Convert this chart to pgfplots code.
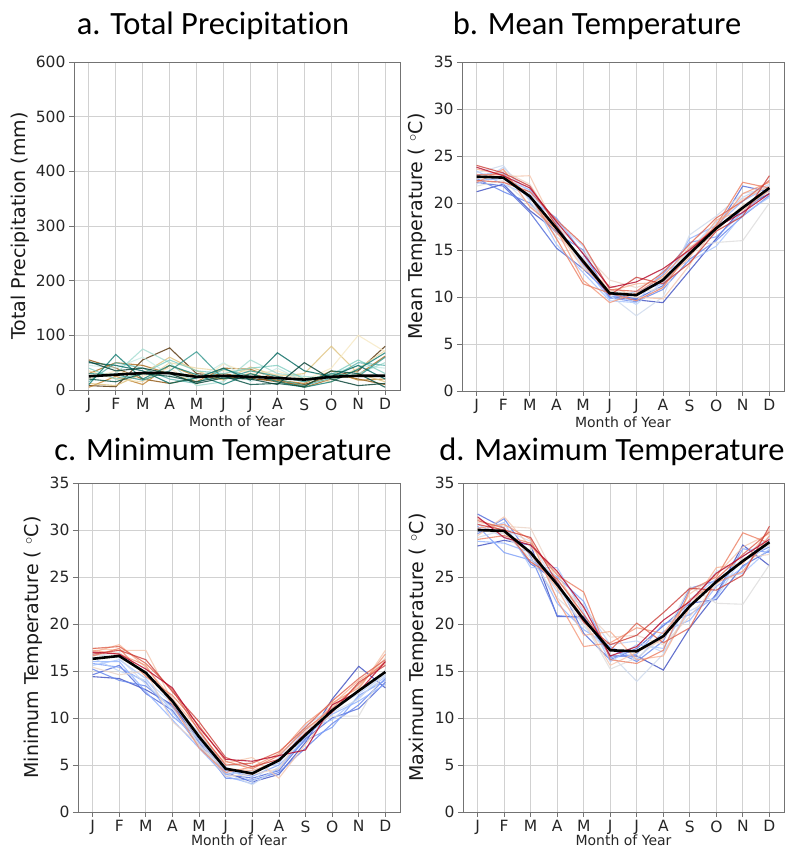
\documentclass[border=0pt]{standalone}
\usepackage{fontspec}
\setmainfont{DejaVu Sans}
\newfontfamily\titlefont[Ligatures=NoCommon]{Carlito}
\usepackage{pgfplots}
\usepackage{pgfplotstable}
\pgfplotsset{compat=1.18}

% coolwarm, blue (early) to red (late)
\definecolor{t1}{HTML}{3B4CC0}
\definecolor{t2}{HTML}{4F69D9}
\definecolor{t3}{HTML}{6485EC}
\definecolor{t4}{HTML}{7A9DF8}
\definecolor{t5}{HTML}{8FB1FE}
\definecolor{t6}{HTML}{A5C3FE}
\definecolor{t7}{HTML}{BBD1F8}
\definecolor{t8}{HTML}{CDD9EC}
\definecolor{t9}{HTML}{DDDCDC}
\definecolor{t10}{HTML}{EBD3C6}
\definecolor{t11}{HTML}{F4C5AD}
\definecolor{t12}{HTML}{F7B194}
\definecolor{t13}{HTML}{F4987A}
\definecolor{t14}{HTML}{EC7F63}
\definecolor{t15}{HTML}{DE614D}
\definecolor{t16}{HTML}{CC403A}
\definecolor{t17}{HTML}{B40426}
% BrBG for precipitation
\definecolor{p1}{HTML}{543005}
\definecolor{p2}{HTML}{8C510A}
\definecolor{p3}{HTML}{A8691C}
\definecolor{p4}{HTML}{BF812D}
\definecolor{p5}{HTML}{DFC27D}
\definecolor{p6}{HTML}{ECD9A6}
\definecolor{p7}{HTML}{F6E8C3}
\definecolor{p8}{HTML}{C7EAE5}
\definecolor{p9}{HTML}{A2DBD0}
\definecolor{p10}{HTML}{80CDC1}
\definecolor{p11}{HTML}{5AB4AC}
\definecolor{p12}{HTML}{35978F}
\definecolor{p13}{HTML}{0F7A70}
\definecolor{p14}{HTML}{01665E}
\definecolor{p15}{HTML}{004D40}
\definecolor{p16}{HTML}{003C30}

% one row per year, months as columns
\pgfplotstableread{
id 1 2 3 4 5 6 7 8 9 10 11 12
c1 8 6 55 77 30 25 20 18 10 25 35 80
c2 55 40 20 12 22 30 22 15 8 30 20 10
c3 30 50 45 30 15 40 38 20 5 20 28 62
c4 5 25 10 45 25 20 30 18 12 35 18 20
c5 12 8 30 60 35 18 42 25 30 80 30 15
c6 35 20 15 50 40 35 35 28 22 15 40 72
c7 20 35 25 40 10 48 30 35 18 40 100 70
c8 45 40 60 28 20 50 15 40 15 30 45 40
c9 25 30 75 50 8 15 55 30 25 20 30 50
c10 40 20 30 55 35 30 40 45 20 28 55 30
c11 15 50 40 20 12 38 25 20 8 22 50 45
c12 30 28 18 35 70 20 35 25 15 30 25 60
c13 10 65 20 45 28 10 30 15 5 15 38 68
c14 50 45 35 12 22 40 18 68 35 25 45 20
c15 20 15 30 25 15 25 10 12 6 35 30 5
c16 52 35 40 30 12 22 20 10 50 20 8 12
mean 25 28 31 31 24 26 24 22 19 24 26 26
}\rawa

\pgfplotstableread{
id 1 2 3 4 5 6 7 8 9 10 11 12
c1 21.2 22.0 19.2 17.0 14.0 10.0 9.7 9.4 12.8 16.2 19.5 21.0
c2 22.2 21.8 19.0 15.2 13.0 10.3 9.8 11.2 14.8 17.2 21.8 21.2
c3 22.6 21.2 20.0 16.8 15.0 9.9 9.5 10.8 14.0 16.0 18.6 20.8
c4 23.0 23.2 20.4 18.4 14.6 10.0 10.2 12.4 15.8 16.4 19.0 21.4
c5 22.4 22.6 21.4 17.8 13.4 9.8 10.6 11.4 16.2 17.6 20.2 21.8
c6 23.4 22.0 20.8 15.6 12.6 9.6 9.4 12.8 13.8 15.4 18.8 20.6
c7 22.0 23.8 21.0 18.0 15.4 10.8 9.2 11.6 15.0 18.0 20.6 22.0
c8 23.2 24.0 20.2 16.4 14.2 10.2 8.0 10.0 16.6 18.6 21.0 21.6
c9 21.8 22.4 19.8 17.4 13.2 10.6 10.4 11.0 15.4 15.8 16.0 20.0
c10 22.6 23.4 22.0 17.6 14.8 11.8 11.0 12.0 14.4 17.0 19.8 21.2
c11 22.8 22.8 22.9 17.2 13.0 11.2 10.0 9.8 13.4 17.8 20.4 21.8
c12 23.6 23.0 20.6 16.8 14.0 10.6 11.4 11.6 14.2 18.2 19.2 21.4
c13 22.2 23.6 19.6 17.2 11.8 9.4 10.4 12.2 15.2 17.4 21.0 22.2
c14 23.0 23.0 20.8 16.2 11.4 10.4 9.6 11.0 14.8 17.6 22.2 21.6
c15 22.4 22.2 21.2 18.2 15.6 10.8 10.6 12.6 15.6 18.4 20.2 22.4
c16 24.0 23.2 21.8 17.6 13.6 10.2 12.1 11.4 13.6 17.0 18.6 22.9
c17 23.8 22.9 21.6 18.0 14.6 11.0 11.6 13.0 15.0 17.4 19.0 21.0
mean 22.8 22.7 20.7 17.3 13.8 10.4 10.2 11.8 14.6 17.3 19.5 21.6
}\rawb

\pgfplotstableread{
id 1 2 3 4 5 6 7 8 9 10 11 12
c1 14.4 14.2 13.0 11.4 7.6 4.2 3.2 4.0 7.4 12.0 15.5 13.2
c2 14.6 15.6 12.6 10.8 7.0 4.0 3.6 4.4 7.8 10.0 11.0 13.8
c3 15.2 14.0 13.4 11.2 7.4 3.6 3.4 4.2 6.8 9.4 11.4 14.2
c4 15.8 15.4 13.8 10.2 7.8 4.4 3.8 5.0 7.6 9.0 12.4 14.0
c5 16.0 16.0 12.8 9.8 6.8 3.8 3.0 4.6 8.0 10.4 11.8 13.6
c6 15.6 16.2 14.2 10.6 7.2 4.0 4.4 5.2 8.8 9.8 12.2 14.4
c7 16.4 15.0 14.0 11.6 8.4 4.8 3.2 5.8 9.2 11.0 12.6 14.6
c8 16.8 16.4 13.6 11.0 7.6 4.2 2.9 4.8 8.4 10.6 12.0 15.0
c9 16.6 17.0 14.6 12.2 7.0 4.6 4.2 5.6 9.0 10.2 10.2 15.2
c10 15.4 14.6 15.0 9.6 7.2 3.8 4.0 4.6 8.6 11.2 13.4 16.4
c11 17.4 17.2 17.2 11.8 8.2 5.2 5.8 3.6 7.2 10.8 13.0 17.2
c12 17.0 17.8 15.4 12.0 8.8 4.6 4.4 5.4 8.2 11.4 14.0 15.8
c13 17.2 16.8 15.6 11.4 6.8 4.2 4.8 6.2 9.4 11.6 13.2 16.8
c14 16.6 17.4 14.4 12.4 9.2 5.4 4.6 6.0 8.8 11.0 13.6 16.0
c15 17.4 17.6 15.8 13.0 8.6 5.0 5.2 6.4 9.0 11.8 14.2 16.2
c16 16.8 17.2 16.2 12.8 9.6 5.8 4.8 5.6 8.4 10.6 13.8 15.6
c17 17.0 16.8 15.2 13.2 9.0 5.6 5.4 6.0 6.6 11.4 12.8 16.0
mean 16.3 16.6 14.8 11.8 8.0 4.6 4.1 5.5 8.2 10.8 12.9 14.9
}\rawc

\pgfplotstableread{
id 1 2 3 4 5 6 7 8 9 10 11 12
c1 28.3 28.9 28.4 20.8 20.8 16.6 16.6 15.1 19.6 23.2 28.4 26.2
c2 31.7 30.2 26.4 24.6 19.0 16.2 17.4 19.8 22.2 22.6 26.2 27.8
c3 29.6 31.2 27.2 20.9 20.6 17.4 16.0 18.2 23.8 24.6 26.8 28.2
c4 30.4 27.6 26.8 25.0 22.4 16.4 16.8 20.0 21.0 23.0 28.0 27.6
c5 28.8 28.6 27.6 22.2 19.4 17.6 16.2 19.2 20.4 24.0 26.0 28.8
c6 29.8 30.8 26.0 26.0 21.2 16.0 17.8 17.4 22.6 24.8 25.4 28.0
c7 30.6 29.2 27.8 23.4 22.0 17.8 18.2 17.0 21.4 22.8 27.2 29.2
c8 29.2 30.0 28.8 24.0 19.8 16.8 13.9 16.8 22.0 25.6 26.6 28.4
c9 30.0 29.6 27.0 22.8 20.2 15.2 16.4 18.6 24.0 22.2 22.1 26.3
c10 30.8 30.4 30.2 24.6 21.6 18.6 18.8 17.8 20.8 24.2 27.0 27.4
c11 29.4 31.4 28.2 25.4 20.4 15.6 17.0 18.4 23.2 25.2 28.2 29.6
c12 31.2 29.8 27.4 23.8 18.8 19.2 16.2 16.6 21.8 26.0 26.4 30.0
c13 30.2 30.6 29.0 22.6 17.6 18.0 19.6 19.0 22.6 24.4 25.6 29.4
c14 29.0 29.4 28.6 25.2 23.4 16.2 15.8 17.2 23.6 25.0 29.7 28.6
c15 31.0 30.2 26.6 24.8 21.0 17.2 20.1 18.0 19.6 24.8 27.4 29.8
c16 30.6 30.0 29.2 24.4 20.2 17.8 18.8 21.2 23.8 23.6 25.2 30.4
c17 31.4 29.2 28.4 25.6 21.8 16.6 17.6 20.4 22.4 25.4 27.2 29.0
mean 30.0 29.9 27.6 24.2 20.5 17.2 17.1 18.7 21.9 24.5 26.7 28.7
}\rawd

\pgfplotstabletranspose[colnames from=id]\Ta{\rawa}
\pgfplotstabletranspose[colnames from=id]\Tb{\rawb}
\pgfplotstabletranspose[colnames from=id]\Tc{\rawc}
\pgfplotstabletranspose[colnames from=id]\Td{\rawd}

\pgfplotsset{
  panel/.style={
    scale only axis, anchor=south west,
    xmin=0.45, xmax=12.55,
    xtick={1,...,12},
    xticklabels={J,F,M,A,M,J,J,A,S,O,N,D},
    grid=major, grid style={line width=0.8pt, black!18},
    axis line style={black!55, line width=0.9pt},
    tick align=outside, major tick length=5pt,
    tick style={black!55, line width=0.8pt},
    xtick pos=bottom, ytick pos=left,
    tick label style={font=\fontsize{15.5}{18}\selectfont, text=black!85},
    /pgf/number format/assume math mode=true,
    xlabel={Month of Year},
    xlabel style={font=\fontsize{14}{16}\selectfont, text=black!85, yshift=4pt},
    ylabel style={font=\fontsize{19}{22}\selectfont, text=black!90},
    no markers,
  },
  temp/.style={ymin=0, ymax=35, ytick={0,5,...,35}},
  low/.style={xlabel style={yshift=3pt}},
  yr/.style={line width=1.1pt, opacity=0.8},
  avg/.style={black, line width=2.6pt},
}

\begin{document}
\begin{tikzpicture}
\path[use as bounding box] (0,0) rectangle (789pt,850pt);

\node[font=\titlefont\fontsize{32.5}{32}\selectfont, anchor=base] at (213pt,815pt) {a. Total Precipitation};
\node[font=\titlefont\fontsize{32.5}{32}\selectfont, anchor=base] at (597pt,815pt) {b. Mean Temperature};
\node[font=\titlefont\fontsize{32.5}{32}\selectfont, anchor=base] at (223pt,389pt) {c. Minimum Temperature};
\node[font=\titlefont\fontsize{32.5}{32}\selectfont, anchor=base] at (612pt,389pt) {d. Maximum Temperature};

\begin{axis}[panel, at={(74pt,460pt)}, width=326pt, height=328pt,
  ymin=0, ymax=600, ytick={0,100,...,600},
  ylabel={Total Precipitation (mm)}]
\pgfplotsinvokeforeach{1,...,16}{
  \addplot[p#1, yr] table[x=colnames, y=c#1] {\Ta};
}
\addplot[avg] table[x=colnames, y=mean] {\Ta};
\end{axis}

\begin{axis}[panel, temp, at={(462pt,459pt)}, width=322pt, height=329pt,
  ylabel={Mean Temperature ( $^\circ$C)}]
\pgfplotsinvokeforeach{1,...,17}{
  \addplot[t#1, yr] table[x=colnames, y=c#1] {\Tb};
}
\addplot[avg] table[x=colnames, y=mean] {\Tb};
\end{axis}

\begin{axis}[panel, temp, low, at={(78pt,38pt)}, width=322pt, height=329pt,
  ylabel={Minimum Temperature ( $^\circ$C)}]
\pgfplotsinvokeforeach{1,...,17}{
  \addplot[t#1, yr] table[x=colnames, y=c#1] {\Tc};
}
\addplot[avg] table[x=colnames, y=mean] {\Tc};
\end{axis}

\begin{axis}[panel, temp, low, at={(463pt,38pt)}, width=321pt, height=329pt,
  ylabel={Maximum Temperature ( $^\circ$C)}]
\pgfplotsinvokeforeach{1,...,17}{
  \addplot[t#1, yr] table[x=colnames, y=c#1] {\Td};
}
\addplot[avg] table[x=colnames, y=mean] {\Td};
\end{axis}
\end{tikzpicture}
\end{document}
